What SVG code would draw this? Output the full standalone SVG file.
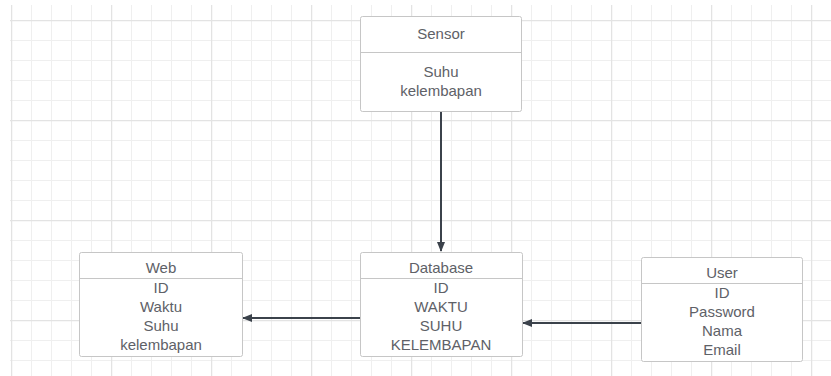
<svg xmlns="http://www.w3.org/2000/svg" width="831" height="376" viewBox="0 0 831 376">
<defs>
<pattern id="minor" x="11" y="0" width="20" height="20" patternUnits="userSpaceOnUse">
<path d="M0.5 0V20M0 0.5H20" fill="none" stroke="#efefef" stroke-width="1"/>
</pattern>
<pattern id="major" x="11" y="20" width="100" height="100" patternUnits="userSpaceOnUse">
<path d="M0.5 0V100M0 0.5H100" fill="none" stroke="#e3e3e3" stroke-width="1.5"/>
</pattern>
<marker id="arr" viewBox="0 0 10 10" refX="9" refY="5" markerWidth="10" markerHeight="10" markerUnits="userSpaceOnUse" orient="auto">
<path d="M0 1L10 5L0 9z" fill="#3b424b"/>
</marker>
</defs>
<style>
.box{fill:#fff;stroke:#c6c6c6;stroke-width:1}
.div{stroke:#c6c6c6;stroke-width:1}
text{font-family:"Liberation Sans",Arial,sans-serif;font-size:15px;fill:#5e6167;text-anchor:middle}
.edge{stroke:#3b424b;stroke-width:2;fill:none}
</style>
<rect width="831" height="376" fill="#fff"/>
<rect x="10" y="5" width="821" height="371" fill="url(#minor)"/>
<rect x="10" y="5" width="821" height="371" fill="url(#major)"/>
<g id="connectors">
<line class="edge" x1="441" y1="111" x2="441" y2="251" marker-end="url(#arr)"/>
<line class="edge" x1="360" y1="318" x2="243" y2="318" marker-end="url(#arr)"/>
<line class="edge" x1="641" y1="323" x2="523" y2="323" marker-end="url(#arr)"/>
</g>
<g id="sensor">
<rect class="box" x="360.5" y="16.5" width="161" height="95" rx="2"/>
<line class="div" x1="360.5" y1="52.5" x2="521.5" y2="52.5"/>
<text x="441" y="39">Sensor</text>
<text x="441" y="77">Suhu</text>
<text x="441" y="96">kelembapan</text>
</g>
<g id="web">
<rect class="box" x="79.5" y="252.5" width="163" height="104" rx="2"/>
<line class="div" x1="79.5" y1="278.5" x2="242.5" y2="278.5"/>
<text x="161" y="273">Web</text>
<text x="161" y="293">ID</text>
<text x="161" y="312">Waktu</text>
<text x="161" y="331">Suhu</text>
<text x="161" y="350">kelembapan</text>
</g>
<g id="database">
<rect class="box" x="360.5" y="252.5" width="162" height="104" rx="2"/>
<line class="div" x1="360.5" y1="278.5" x2="522.5" y2="278.5"/>
<text x="441" y="273">Database</text>
<text x="441" y="293">ID</text>
<text x="441" y="312">WAKTU</text>
<text x="441" y="331">SUHU</text>
<text x="441" y="350">KELEMBAPAN</text>
</g>
<g id="user">
<rect class="box" x="641.5" y="257.5" width="161" height="104" rx="2"/>
<line class="div" x1="641.5" y1="283.5" x2="802.5" y2="283.5"/>
<text x="722" y="278">User</text>
<text x="722" y="298">ID</text>
<text x="722" y="317">Password</text>
<text x="722" y="336">Nama</text>
<text x="722" y="355">Email</text>
</g>
</svg>
